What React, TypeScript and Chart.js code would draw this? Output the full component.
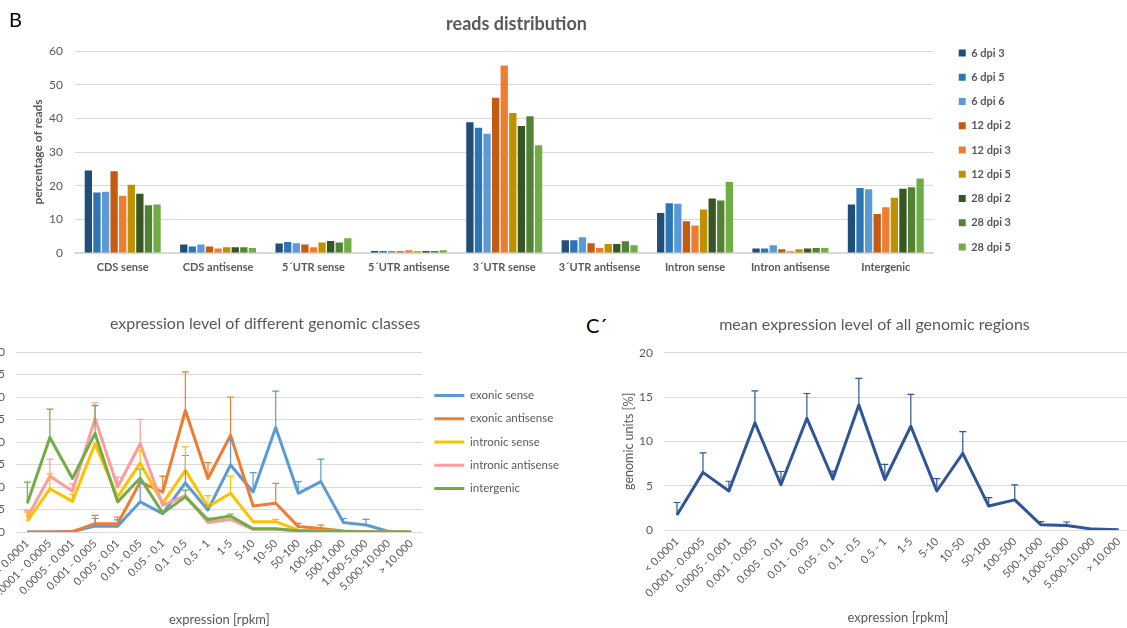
import React, { useEffect, useRef } from 'react';
import { Chart, registerables } from 'chart.js';
Chart.register(...registerables);

const FONT = 'Lato, "Open Sans", sans-serif';
const GREY = '#595959';
const GRID = '#D9D9D9';
Chart.defaults.font.family = FONT;
Chart.defaults.color = GREY;

// ---------- reads distribution ----------
const readCategories = ['CDS sense', 'CDS antisense', '5´UTR sense', '5´UTR antisense', '3´UTR sense', '3´UTR antisense', 'Intron sense', 'Intron antisense', 'Intergenic'];
const readSeriesLabels = ['6 dpi 3', '6 dpi 5', '6 dpi 6', '12 dpi 2', '12 dpi 3', '12 dpi 5', '28 dpi 2', '28 dpi 3', '28 dpi 5'];
const dpi6_3 = [24.5, 2.5, 2.8, 0.6, 38.8, 3.8, 11.9, 1.3, 14.4];
const dpi6_5 = [18.0, 1.9, 3.3, 0.6, 37.2, 3.8, 14.8, 1.3, 19.3];
const dpi6_6 = [18.2, 2.5, 2.9, 0.6, 35.4, 4.7, 14.6, 2.3, 18.9];
const dpi12_2 = [24.3, 1.9, 2.5, 0.5, 46.1, 2.9, 9.4, 1.1, 11.6];
const dpi12_3 = [17.0, 1.3, 1.7, 0.8, 55.7, 1.5, 8.2, 0.5, 13.6];
const dpi12_5 = [20.3, 1.7, 3.1, 0.5, 41.6, 2.7, 12.9, 1.1, 16.4];
const dpi28_2 = [17.6, 1.7, 3.6, 0.6, 37.7, 2.7, 16.2, 1.3, 19.1];
const dpi28_3 = [14.2, 1.7, 3.1, 0.6, 40.6, 3.5, 15.6, 1.5, 19.5];
const dpi28_5 = [14.4, 1.5, 4.4, 0.8, 32.0, 2.3, 21.1, 1.5, 22.1];
const readSeries = [dpi6_3, dpi6_5, dpi6_6, dpi12_2, dpi12_3, dpi12_5, dpi28_2, dpi28_3, dpi28_5];
const readColors = ['#1F4E79', '#2E75B6', '#5B9BD5', '#C55A11', '#ED7D31', '#BF9000', '#375623', '#548235', '#70AD47'];
const readTicks = { min: 0, max: 60, step: 10 };

// ---------- expression classes ----------
const exprCategories = ['< 0.0001', '0.0001 - 0.0005', '0.0005 - 0.001', '0.001 - 0.005', '0.005 - 0.01', '0.01 - 0.05', '0.05 - 0.1', '0.1 - 0.5', '0.5 - 1', '1-5', '5-10', '10-50', '50-100', '100-500', '500-1.000', '1.000-5.000', '5.000-10.000', '> 10.000'];
const classLabels = ['exonic sense', 'exonic antisense', 'intronic sense', 'intronic antisense', 'intergenic'];
const exonicSense = [0, 0, 0.1, 1.3, 1.3, 6.7, 4.1, 10.9, 4.9, 14.9, 8.9, 23.2, 8.6, 11.2, 2.1, 1.55, 0.15, 0];
const exonicSenseErr = [0, 0, 0, 1.7, 1.4, 4.4, 0, 6.1, 1.0, 5.5, 4.3, 8.1, 2.6, 5.0, 0.9, 1.25, 0, 0];
const exonicAntisense = [0, 0, 0.1, 1.85, 1.85, 11.1, 8.9, 27.0, 11.9, 21.5, 5.8, 6.4, 1.2, 0.8, 0.2, 0.05, 0, 0];
const exonicAntisenseErr = [0, 0, 0, 1.85, 1.45, 0, 3.5, 8.6, 3.5, 8.5, 0, 4.4, 0.7, 0.75, 0, 0, 0, 0];
const intronicSense = [2.4, 9.6, 6.8, 19.6, 7.8, 15.3, 6.4, 13.7, 5.6, 8.6, 2.3, 2.3, 0.4, 0.3, 0.1, 0.05, 0, 0];
const intronicSenseErr = [2.0, 3.3, 1.6, 0, 0, 2.8, 0, 5.2, 2.5, 3.8, 0, 0.5, 0, 0, 0, 0, 0, 0];
const intronicAntisense = [3.3, 12.4, 9.1, 25.2, 10.0, 19.6, 5.9, 8.1, 2.1, 2.8, 0.6, 0.6, 0.2, 0.15, 0.1, 0.05, 0, 0];
const intronicAntisenseErr = [1.5, 3.8, 1.6, 3.5, 2.2, 5.4, 0, 0, 0, 0, 0, 0, 0, 0, 0, 0, 0, 0];
const intergenic = [6.4, 21.0, 11.9, 21.9, 6.7, 12.0, 4.2, 7.8, 2.7, 3.55, 0.7, 0.7, 0.3, 0.2, 0.1, 0.05, 0, 0];
const intergenicErr = [4.7, 6.3, 0, 6.2, 0, 2.0, 0, 1.5, 0.4, 0.45, 0, 0, 0, 0, 0, 0, 0, 0];
const classSeries = [exonicSense, exonicAntisense, intronicSense, intronicAntisense, intergenic];
const classErrors = [exonicSenseErr, exonicAntisenseErr, intronicSenseErr, intronicAntisenseErr, intergenicErr];
const classColors = ['#5B9BD5', '#ED7D31', '#FFC000', '#FF9B9B', '#70AD47'];
const classTicks = { min: 0, max: 40, step: 5 };

// ---------- mean expression ----------
const meanExpression = [1.7, 6.5, 4.4, 12.1, 5.1, 12.6, 5.75, 14.1, 5.7, 11.7, 4.4, 8.65, 2.7, 3.4, 0.6, 0.5, 0.1, 0.02];
const meanExpressionErr = [1.4, 2.2, 1.1, 3.6, 1.5, 2.8, 0.9, 3.0, 1.7, 3.6, 1.4, 2.45, 0.95, 1.7, 0.35, 0.4, 0, 0];
const meanColor = '#2F5597';
const meanTicks = { min: 0, max: 20, step: 5 };

const errorBarPlugin = {
  id: 'errorBars',
  afterDatasetsDraw(chart: any) {
    const ctx = chart.ctx;
    const yScale = chart.scales.y;
    chart.data.datasets.forEach((ds: any, i: number) => {
      const errs = ds.errorPlus;
      if (!errs) return;
      const meta = chart.getDatasetMeta(i);
      ctx.save();
      ctx.strokeStyle = ds.borderColor;
      ctx.lineWidth = 1.2;
      meta.data.forEach((pt: any, j: number) => {
        const e = errs[j];
        if (!e) return;
        const v = ds.data[j];
        const x = pt.x;
        const y0 = pt.y;
        const y1 = yScale.getPixelForValue(v + e);
        ctx.beginPath();
        ctx.moveTo(x, y0);
        ctx.lineTo(x, y1);
        ctx.moveTo(x - 3.5, y1);
        ctx.lineTo(x + 3.5, y1);
        ctx.stroke();
      });
      ctx.restore();
    });
  },
};

function ChartBox({ make, left, top, width, height }: any) {
  const ref = useRef<HTMLCanvasElement>(null);
  useEffect(() => {
    const chart = new Chart(ref.current as HTMLCanvasElement, make());
    return () => chart.destroy();
  }, []);
  return (
    <canvas
      ref={ref}
      width={width}
      height={height}
      style={{ position: 'absolute', left, top, width, height, display: 'block' }}
    />
  );
}

const makeReads = (): any => ({
  type: 'bar',
  data: {
    labels: readCategories,
    datasets: readSeries.map((d, i) => ({
      label: readSeriesLabels[i],
      data: d,
      backgroundColor: readColors[i],
      borderWidth: 0,
      barPercentage: 0.85,
      categoryPercentage: 0.81,
    })),
  },
  options: {
    responsive: false,
    animation: false,
    devicePixelRatio: 1,
    layout: { padding: { left: 12, top: 10, right: 106, bottom: 0 } },
    plugins: {
      title: {
        display: true,
        text: 'reads distribution',
        color: GREY,
        font: { size: 18, weight: 'bold' },
        padding: { top: 3, bottom: 16.4 },
      },
      legend: {
        position: 'right',
        align: 'center',
        labels: { boxWidth: 7, boxHeight: 7, padding: 13.25, color: GREY, font: { size: 11, weight: 'bold' } },
      },
      tooltip: { enabled: false },
    },
    scales: {
      x: {
        grid: { display: false, drawTicks: false },
        border: { color: GRID, width: 1.5 },
        ticks: { color: GREY, font: { size: 11, weight: 'bold' }, padding: 8, maxRotation: 0, autoSkip: false },
        afterFit: (s: any) => { s.height = 37; },
      },
      y: {
        min: readTicks.min,
        max: readTicks.max,
        ticks: { stepSize: readTicks.step, padding: 12, color: GREY, font: { size: 12 } },
        grid: { color: GRID, drawTicks: false },
        border: { display: false },
        title: { display: true, text: 'percentage of reads', color: GREY, font: { size: 12, weight: 'bold' }, padding: { top: 18.5, bottom: 0 } },
        afterFit: (s: any) => { s.width = 63; },
      },
      y2: {
        position: 'right',
        display: true,
        ticks: { display: false },
        grid: { display: false },
        border: { display: false },
        afterFit: (s: any) => { s.width = 12; },
      },
    },
  },
});

const lineLegendLabels = (chart: any) =>
  (Chart.defaults.plugins.legend.labels as any)
    .generateLabels(chart)
    .map((l: any) => ({ ...l, lineWidth: 0 }))
    .sort((a: any, b: any) => a.datasetIndex - b.datasetIndex);

const makeClasses = (): any => ({
  type: 'line',
  data: {
    labels: exprCategories,
    datasets: classSeries.map((d, i) => ({
      label: classLabels[i],
      data: d,
      errorPlus: classErrors[i],
      borderColor: classColors[i],
      backgroundColor: classColors[i],
      borderWidth: 3,
      pointRadius: 0,
      tension: 0,
      fill: false,
      borderJoinStyle: 'round',
      order: classSeries.length - i,
    })),
  },
  plugins: [errorBarPlugin],
  options: {
    responsive: false,
    animation: false,
    devicePixelRatio: 1,
    layout: { padding: 0 },
    plugins: {
      title: {
        display: true,
        text: 'expression level of different genomic classes',
        color: GREY,
        font: { size: 16, weight: 'normal' },
        padding: { top: 14.4, bottom: 18.4 },
      },
      legend: {
        position: 'right',
        align: 'center',
        fullSize: false,
        labels: {
          boxWidth: 30,
          boxHeight: 3,
          padding: 11.8,
          color: GREY,
          font: { size: 11.5 },
          generateLabels: lineLegendLabels,
          sort: (a: any, b: any) => a.datasetIndex - b.datasetIndex,
        },
      },
      tooltip: { enabled: false },
    },
    scales: {
      x: {
        offset: true,
        grid: { display: false, drawTicks: false },
        border: { display: false },
        ticks: { color: GREY, font: { size: 11 }, padding: 5, minRotation: 45, maxRotation: 45, autoSkip: false },
        title: { display: true, text: 'expression [rpkm]', color: GREY, font: { size: 13 }, padding: { top: 0, bottom: 0 } },
        afterFit: (s: any) => { s.height = 96; },
      },
      y: {
        min: classTicks.min,
        max: classTicks.max,
        ticks: { stepSize: classTicks.step, padding: 11, color: GREY, font: { size: 12 } },
        grid: { color: GRID, drawTicks: false },
        border: { display: false },
        afterFit: (s: any) => { s.width = 55; },
      },
    },
  },
});

const makeMean = (): any => ({
  type: 'line',
  data: {
    labels: exprCategories,
    datasets: [
      {
        label: 'mean',
        data: meanExpression,
        errorPlus: meanExpressionErr,
        borderColor: meanColor,
        backgroundColor: meanColor,
        borderWidth: 3,
        pointRadius: 0,
        tension: 0,
        fill: false,
        borderJoinStyle: 'round',
      },
    ],
  },
  plugins: [errorBarPlugin],
  options: {
    responsive: false,
    animation: false,
    devicePixelRatio: 1,
    layout: { padding: 0 },
    plugins: {
      title: {
        display: true,
        text: 'mean expression level of all genomic regions',
        color: GREY,
        font: { size: 16, weight: 'normal' },
        padding: { top: 15.4, bottom: 18.1 },
      },
      legend: { display: false },
      tooltip: { enabled: false },
    },
    scales: {
      x: {
        offset: true,
        grid: { display: false, drawTicks: false },
        border: { display: false },
        ticks: { color: GREY, font: { size: 11 }, padding: 5, minRotation: 45, maxRotation: 45, autoSkip: false },
        title: { display: true, text: 'expression [rpkm]', color: GREY, font: { size: 13 }, padding: { top: 0, bottom: 2.2 } },
        afterFit: (s: any) => { s.height = 98; },
      },
      y: {
        min: meanTicks.min,
        max: meanTicks.max,
        ticks: { stepSize: meanTicks.step, padding: 11, color: GREY, font: { size: 12 } },
        grid: { color: GRID, drawTicks: false },
        border: { display: false },
        title: { display: true, text: 'genomic units [%]', color: GREY, font: { size: 12.5 }, padding: { top: 5.5, bottom: 0 } },
        afterFit: (s: any) => { s.width = 48; },
      },
    },
  },
});

export default function App() {
  return (
    <div
      style={{
        position: 'fixed',
        left: 0,
        top: 0,
        width: 1127,
        height: 628,
        overflow: 'hidden',
        background: '#ffffff',
      }}
    >
      <ChartBox make={makeReads} left={0} top={0} width={1127} height={290} />
      <ChartBox make={makeClasses} left={-39} top={300} width={608} height={328} />
      <ChartBox make={makeMean} left={616} top={300} width={517} height={328} />
      <div style={{ position: 'absolute', left: 9, top: 7, fontFamily: FONT, fontSize: 20, lineHeight: '24px', color: '#000' }}>B</div>
      <div style={{ position: 'absolute', left: 586, top: 313, fontFamily: FONT, fontSize: 20, lineHeight: '24px', color: '#000' }}>C´</div>
    </div>
  );
}
